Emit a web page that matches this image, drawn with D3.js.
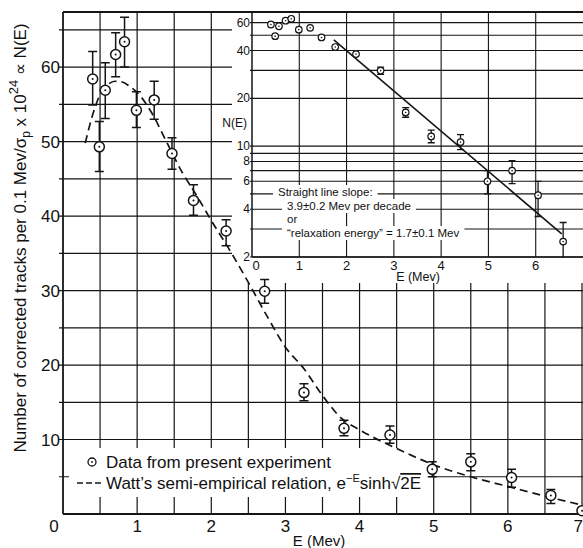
<!DOCTYPE html>
<html>
<head>
<meta charset="utf-8">
<script src="https://cdn.jsdelivr.net/npm/d3@7"></script>
<style>
  body { margin: 0; background: #fff; }
  svg { display: block; font-family: 'Liberation Sans', Arial, sans-serif; fill: #111; }
</style>
</head>
<body>
<svg id="chart" width="583" height="548"></svg>
<script>
// measured points (same data shown in both panels)
var energy = [0.4, 0.49, 0.57, 0.71, 0.83, 0.99, 1.23, 1.47, 1.76, 2.2, 2.72, 3.25, 3.79, 4.41, 4.98, 5.5, 6.05, 6.58, 7.0];
var counts = [58.4, 49.3, 56.9, 61.7, 63.4, 54.2, 55.6, 48.4, 42.1, 38.0, 29.9, 16.3, 11.5, 10.6, 6.0, 7.0, 4.9, 2.5, 0.45];
var errHigh = [62.1, 52.7, 60.6, 64.6, 66.7, 56.7, 58.1, 50.5, 44.2, 39.5, 31.5, 17.5, 12.6, 11.8, 7.0, 8.1, 6.0, 3.3, null];
var errLow = [54.9, 46.0, 53.1, 58.7, 60.0, 51.9, 53.0, 46.3, 40.1, 36.0, 28.3, 15.2, 10.5, 9.5, 5.0, 5.8, 3.6, 1.4, null];

// Watt curve
var wattE = [0.3, 0.4, 0.5, 0.6, 0.7, 0.8, 0.9, 1.0, 1.2, 1.4, 1.6, 1.8, 2.0, 2.25, 2.5, 2.75, 3.0, 3.25, 3.5, 3.75, 4.0, 4.5, 5.0, 5.5, 6.0, 6.5, 7.0];
var wattN = [49.8, 53.6, 56.3, 57.6, 58.1, 58.0, 57.4, 56.6, 53.8, 49.9, 46.0, 42.8, 39.4, 35.4, 31.1, 26.6, 22.4, 19.5, 15.9, 12.9, 11.3, 8.8, 6.6, 5.0, 3.7, 2.4, 1.2];

// straight line fit in the inset
var fitE = [1.73, 6.55];
var fitN = [46.7, 2.8];

var mainYTicks = [10, 20, 30, 40, 50, 60];
var mainXTicks = [1, 2, 3, 4, 5, 6, 7];
var insetYTicks = [60, 40, 20, 10, 8, 6, 4, 2];
var insetXTicks = [0, 1, 2, 3, 4, 5, 6];
var insetNote = [
  'Straight line slope:',
  '3.9\u00b10.2 Mev per decade',
  'or',
  '\u201crelaxation energy\u201d = 1.7\u00b10.1 Mev'
];

(function() {
  var svg = d3.select('#chart');
  var ink = '#151515';

  var x = d3.scaleLinear().domain([0, 7]).range([63, 582]);
  var y = d3.scaleLinear().domain([0, 67.4]).range([514, 12]);

  var points = energy.map(function(e, i) {
    return { e: e, n: counts[i], hi: errHigh[i], lo: errLow[i] };
  });

  // main grid
  var grid = svg.append('g').attr('stroke', ink).attr('stroke-width', 1.2);
  grid.selectAll('.h')
    .data(d3.range(5, 66, 5))
    .enter().append('line')
    .attr('x1', 59).attr('x2', 583)
    .attr('y1', function(d) { return y(d); })
    .attr('y2', function(d) { return y(d); });
  grid.selectAll('.v')
    .data(d3.range(0.5, 7.01, 0.5))
    .enter().append('line')
    .attr('y1', y(67.4)).attr('y2', y(0))
    .attr('x1', function(d) { return x(d); })
    .attr('x2', function(d) { return x(d); });

  // frame
  var frame = svg.append('g').attr('stroke', ink).attr('stroke-width', 1.8);
  frame.append('line').attr('x1', x(0)).attr('x2', x(0)).attr('y1', y(67.4)).attr('y2', y(0));
  frame.append('line').attr('x1', x(0)).attr('x2', 583).attr('y1', y(0)).attr('y2', y(0));
  frame.append('line').attr('x1', x(0)).attr('x2', 583).attr('y1', y(67.4)).attr('y2', y(67.4));

  // legend background
  svg.append('rect')
    .attr('x', 69).attr('y', 448).attr('width', 360).attr('height', 49)
    .attr('fill', '#fff');

  // tick labels
  svg.append('g').selectAll('text')
    .data(mainYTicks)
    .enter().append('text')
    .attr('x', 60)
    .attr('y', function(d) { return y(d) + 6; })
    .attr('text-anchor', 'end')
    .attr('font-size', 17)
    .text(function(d) { return d; });
  svg.append('text')
    .attr('x', 54).attr('y', 532)
    .attr('text-anchor', 'middle').attr('font-size', 17)
    .text('0');
  svg.append('g').selectAll('text')
    .data(mainXTicks)
    .enter().append('text')
    .attr('x', function(d) { return d === 7 ? 583 : x(d); })
    .attr('y', 532)
    .attr('text-anchor', function(d) { return d === 7 ? 'end' : 'middle'; })
    .attr('font-size', 17)
    .text(function(d) { return d; });
  svg.append('text')
    .attr('x', 319).attr('y', 546)
    .attr('text-anchor', 'middle').attr('font-size', 15)
    .text('E (Mev)');

  // y title
  var title = svg.append('text')
    .attr('transform', 'translate(26,238) rotate(-90)')
    .attr('text-anchor', 'middle')
    .attr('font-size', 17);
  title.append('tspan').text('Number of corrected tracks per 0.1 Mev/\u03c3');
  title.append('tspan').attr('font-size', 12).attr('dy', 4).text('p');
  title.append('tspan').attr('dy', -4).text(' x 10');
  title.append('tspan').attr('font-size', 13).attr('dy', -8).text('24');
  title.append('tspan').attr('dy', 8).text(' \u221d N(E)');

  // ---------- inset ----------
  var ix = d3.scaleLinear().domain([0, 7]).range([252, 583]);
  var iy = d3.scaleLog().domain([2, 70]).range([257, 12]);

  svg.append('rect')
    .attr('x', 232).attr('y', 13).attr('width', 351).attr('height', 270)
    .attr('fill', '#fff');

  var igrid = svg.append('g').attr('stroke', ink).attr('stroke-width', 1.1);
  igrid.selectAll('.h')
    .data([2, 3, 4, 5, 6, 7, 8, 9, 10, 20, 30, 40, 50, 60])
    .enter().append('line')
    .attr('x1', 250).attr('x2', 583)
    .attr('y1', function(d) { return iy(d); })
    .attr('y2', function(d) { return iy(d); });
  igrid.selectAll('.v')
    .data([1, 2, 3, 4, 5, 6])
    .enter().append('line')
    .attr('y1', iy(70)).attr('y2', iy(2))
    .attr('x1', function(d) { return ix(d); })
    .attr('x2', function(d) { return ix(d); });
  igrid.append('line')
    .attr('x1', ix(0)).attr('x2', ix(0)).attr('y1', iy(70)).attr('y2', iy(2))
    .attr('stroke-width', 1.5);
  igrid.append('line')
    .attr('x1', ix(0)).attr('x2', 583).attr('y1', iy(2)).attr('y2', iy(2))
    .attr('stroke-width', 1.5);
  igrid.append('line')
    .attr('x1', 232).attr('x2', 583).attr('y1', iy(70)).attr('y2', iy(70))
    .attr('stroke-width', 1.8);

  svg.append('g').selectAll('text')
    .data(insetYTicks)
    .enter().append('text')
    .attr('x', 250)
    .attr('y', function(d) { return iy(d) + 4; })
    .attr('text-anchor', 'end')
    .attr('font-size', 12)
    .text(function(d) { return d; });
  svg.append('g').selectAll('text')
    .data(insetXTicks)
    .enter().append('text')
    .attr('x', function(d) { return d === 0 ? ix(d) + 4 : ix(d); })
    .attr('y', 270)
    .attr('text-anchor', 'middle')
    .attr('font-size', 13)
    .text(function(d) { return d; });
  svg.append('text')
    .attr('x', 418).attr('y', 281)
    .attr('text-anchor', 'middle').attr('font-size', 12.5)
    .text('E (Mev)');
  svg.append('text')
    .attr('x', 247).attr('y', 127)
    .attr('text-anchor', 'end').attr('font-size', 12)
    .text('N(E)');

  // note block with white backing
  var note = svg.append('g');
  var noteX = [278, 287, 287, 287];
  var noteY = [196, 210, 223, 237];
  note.selectAll('text')
    .data(insetNote)
    .enter().append('text')
    .attr('x', function(d, i) { return noteX[i]; })
    .attr('y', function(d, i) { return noteY[i]; })
    .attr('font-size', 11.5)
    .text(function(d) { return d; })
    .each(function() {
      var b = this.getBBox();
      note.insert('rect', 'text')
        .attr('x', b.x - 5).attr('y', b.y - 1)
        .attr('width', b.width + 10).attr('height', b.height + 2)
        .attr('fill', '#fff');
    });

  svg.append('clipPath').attr('id', 'inset-clip')
    .append('rect').attr('x', 252).attr('y', 12).attr('width', 331).attr('height', 246);
  var inset = svg.append('g').attr('clip-path', 'url(#inset-clip)');

  inset.append('line')
    .attr('x1', ix(fitE[0])).attr('y1', iy(fitN[0]))
    .attr('x2', ix(fitE[1])).attr('y2', iy(fitN[1]))
    .attr('stroke', ink).attr('stroke-width', 1.6);

  var ipts = points.filter(function(d) { return d.e < 6.9; });
  var ibars = ipts.filter(function(d) { return d.e > 2.5; });
  var ib = inset.append('g').attr('stroke', ink).attr('stroke-width', 1.3);
  ib.selectAll('.bar')
    .data(ibars)
    .enter().append('path')
    .attr('fill', 'none')
    .attr('d', function(d) {
      var cx = ix(d.e), t = iy(d.hi), b = iy(d.lo);
      return 'M' + (cx - 3.5) + ',' + t + 'H' + (cx + 3.5) +
        'M' + cx + ',' + t + 'V' + b +
        'M' + (cx - 3.5) + ',' + b + 'H' + (cx + 3.5);
    });
  var ig = inset.selectAll('.pt')
    .data(ipts)
    .enter().append('g')
    .attr('transform', function(d) { return 'translate(' + ix(d.e) + ',' + iy(d.n) + ')'; });
  ig.append('circle').attr('r', 3.3).attr('fill', '#fff').attr('stroke', ink).attr('stroke-width', 1.2);
  ig.append('circle').attr('r', 0.8).attr('fill', ink);

  // ---------- main data ----------
  var line = d3.line()
    .x(function(d) { return x(d[0]); })
    .y(function(d) { return y(d[1]); })
    .curve(d3.curveMonotoneX);
  svg.append('path')
    .datum(d3.zip(wattE, wattN))
    .attr('d', line)
    .attr('fill', 'none')
    .attr('stroke', ink)
    .attr('stroke-width', 1.7)
    .attr('stroke-dasharray', '8,5');

  var bars = svg.append('g').attr('stroke', ink).attr('stroke-width', 1.5);
  bars.selectAll('path')
    .data(points.filter(function(d) { return d.hi !== null; }))
    .enter().append('path')
    .attr('fill', 'none')
    .attr('d', function(d) {
      var cx = x(d.e), t = y(d.hi), b = y(d.lo);
      return 'M' + (cx - 4.5) + ',' + t + 'H' + (cx + 4.5) +
        'M' + cx + ',' + t + 'V' + b +
        'M' + (cx - 4.5) + ',' + b + 'H' + (cx + 4.5);
    });
  var mg = svg.selectAll('.mpt')
    .data(points)
    .enter().append('g')
    .attr('transform', function(d) { return 'translate(' + x(d.e) + ',' + y(d.n) + ')'; });
  mg.append('circle').attr('r', 5).attr('fill', '#fff').attr('stroke', ink).attr('stroke-width', 1.5);
  mg.append('circle').attr('r', 1).attr('fill', ink);

  // legend
  var lg = svg.append('g');
  lg.append('circle').attr('cx', 92).attr('cy', 462).attr('r', 4)
    .attr('fill', 'none').attr('stroke', ink).attr('stroke-width', 1.3);
  lg.append('circle').attr('cx', 92).attr('cy', 462).attr('r', 0.9).attr('fill', ink);
  lg.append('text').attr('x', 106).attr('y', 468).attr('font-size', 17)
    .text('Data from present experiment');
  lg.append('line').attr('x1', 77).attr('x2', 104).attr('y1', 483).attr('y2', 483)
    .attr('stroke', ink).attr('stroke-width', 1.6).attr('stroke-dasharray', '6,3');
  var eq = lg.append('text').attr('x', 106).attr('y', 489).attr('font-size', 17);
  eq.append('tspan').text('Watt\u2019s semi-empirical relation, e');
  eq.append('tspan').attr('font-size', 11).attr('dy', -7).text('\u2212E');
  eq.append('tspan').attr('dy', 7).text('sinh\u221a');
  eq.append('tspan').style('text-decoration', 'overline').text('2E');
}());
</script>
</body>
</html>
